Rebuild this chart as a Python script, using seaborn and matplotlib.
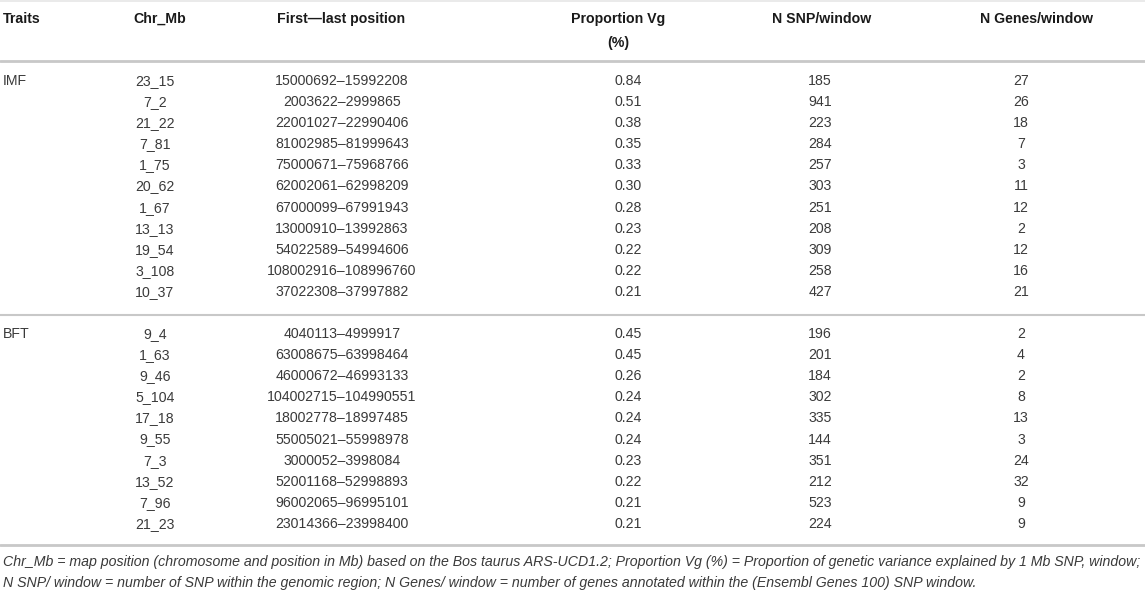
import pandas as pd
import matplotlib.pyplot as plt
import seaborn as sns

# table content
traits = ["IMF"] * 11 + ["BFT"] * 10
chr_mb = ["23_15", "7_2", "21_22", "7_81", "1_75", "20_62", "1_67", "13_13", "19_54", "3_108", "10_37",
          "9_4", "1_63", "9_46", "5_104", "17_18", "9_55", "7_3", "13_52", "7_96", "21_23"]
positions = ["15000692–15992208", "2003622–2999865", "22001027–22990406", "81002985–81999643",
             "75000671–75968766", "62002061–62998209", "67000099–67991943", "13000910–13992863",
             "54022589–54994606", "108002916–108996760", "37022308–37997882",
             "4040113–4999917", "63008675–63998464", "46000672–46993133", "104002715–104990551",
             "18002778–18997485", "55005021–55998978", "3000052–3998084", "52001168–52998893",
             "96002065–96995101", "23014366–23998400"]
prop_vg = [0.84, 0.51, 0.38, 0.35, 0.33, 0.30, 0.28, 0.23, 0.22, 0.22, 0.21,
           0.45, 0.45, 0.26, 0.24, 0.24, 0.24, 0.23, 0.22, 0.21, 0.21]
n_snp = [185, 941, 223, 284, 257, 303, 251, 208, 309, 258, 427,
         196, 201, 184, 302, 335, 144, 351, 212, 523, 224]
n_genes = [27, 26, 18, 7, 3, 11, 12, 2, 12, 16, 21,
           2, 4, 2, 8, 13, 3, 24, 32, 9, 9]

headers = ["Traits", "Chr_Mb", "First\u2014last position", "Proportion Vg\n(%)",
           "N SNP/window", "N Genes/window"]
footnote = ["Chr_Mb = map position (chromosome and position in Mb) based on the Bos taurus ARS-UCD1.2; "
            "Proportion Vg (%) = Proportion of genetic variance explained by 1 Mb SNP, window;",
            "N SNP/ window = number of SNP within the genomic region; N Genes/ window = number of genes "
            "annotated within the (Ensembl Genes 100) SNP window."]

df = pd.DataFrame({"Traits": traits, "Chr_Mb": chr_mb, "Position": positions,
                   "Vg": prop_vg, "SNP": n_snp, "Genes": n_genes})

sns.set_theme(style="white")
plt.rcParams["font.family"] = ["Liberation Sans", "DejaVu Sans"]

W, H = 1145, 591
fig = plt.figure(figsize=(W / 100, H / 100), dpi=100)
ax = fig.add_axes([0, 0, 1, 1])
ax.set_xlim(0, W)
ax.set_ylim(H, 0)
ax.axis("off")

line_col = "#c8c8c8"
txt_col = "#3a3a3a"
fs = 10.2

# header (second line of "Proportion Vg (%)" sits lower)
head_x = [3, 160, 341, 618, 822, 1037]
head_ha = ["left", "center", "center", "center", "center", "center"]
for x, ha, h in zip(head_x, head_ha, headers):
    lines = h.split("\n")
    for j, part in enumerate(lines):
        ax.text(x, 23 + j * 24, part, ha=ha, va="baseline", fontsize=fs, fontweight="bold",
                color="#1a1a1a")

ax.axhline(1, color="#e6e6e6", lw=1.2)
ax.axhline(61, color=line_col, lw=2)

# body rows, baseline placed ~5px below row centre
step = 21.1
col_x = {"Chr_Mb": 155, "Position": 342, "Vg": 628, "SNP": 820, "Genes": 1021}
group_start = {"IMF": 80, "BFT": 333}
prev = None
k = 0
for i, row in df.iterrows():
    if row["Traits"] != prev:
        k = 0
        if prev is not None:
            ax.axhline(group_start[row["Traits"]] - 18, color=line_col, lw=1.5)
        ax.text(3, group_start[row["Traits"]] + 5, row["Traits"], ha="left", va="baseline",
                fontsize=fs, color=txt_col)
        prev = row["Traits"]
    y = group_start[row["Traits"]] + k * step + 5
    ax.text(col_x["Chr_Mb"], y, row["Chr_Mb"], ha="center", va="baseline", fontsize=fs, color=txt_col)
    ax.text(col_x["Position"], y, row["Position"], ha="center", va="baseline", fontsize=fs, color=txt_col)
    ax.text(col_x["Vg"], y, f"{row['Vg']:.2f}", ha="center", va="baseline", fontsize=fs, color=txt_col)
    ax.text(col_x["SNP"], y, str(row["SNP"]), ha="center", va="baseline", fontsize=fs, color=txt_col)
    ax.text(col_x["Genes"], y, str(row["Genes"]), ha="center", va="baseline", fontsize=fs, color=txt_col)
    k += 1

ax.axhline(545, color=line_col, lw=2)

# footnote
ax.text(3, 566, footnote[0], ha="left", va="baseline", fontsize=fs, style="italic", color=txt_col)
ax.text(3, 587, footnote[1], ha="left", va="baseline", fontsize=fs, style="italic", color=txt_col)

fig.savefig("out.png", dpi=100)
